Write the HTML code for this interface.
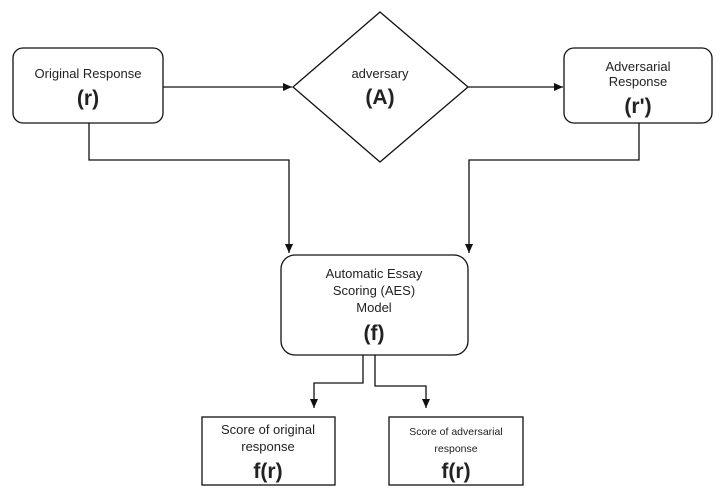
<!DOCTYPE html>
<html><head><meta charset="utf-8"><style>
html,body{margin:0;padding:0;background:#fff;}
svg{display:block;}
text{font-family:"Liberation Sans",Arial,sans-serif;fill:#222;text-anchor:middle;}
.b{font-weight:bold;font-size:21px;}
.s{font-size:13px;}
</style></head><body>
<svg width="723" height="500" viewBox="0 0 723 500" xmlns="http://www.w3.org/2000/svg">
<defs><marker id="a" markerWidth="10" markerHeight="10" refX="9" refY="5" orient="auto" markerUnits="userSpaceOnUse"><path d="M0,1 L9,5 L0,9 Z" fill="#111"/></marker></defs>
<g fill="none" stroke="#111" stroke-width="1.3">
<rect x="13" y="48" width="150" height="75" rx="10"/>
<rect x="564" y="48" width="148" height="75" rx="10"/>
<polygon points="293,87 380,12 468,87 380,162" fill="#fff"/>
<rect x="281" y="255" width="187" height="100" rx="14"/>
<rect x="202" y="417" width="133" height="68"/>
<rect x="389" y="417" width="134" height="68"/>
<path d="M163,87 H292" marker-end="url(#a)"/>
<path d="M468,87 H563" marker-end="url(#a)"/>
<path d="M89,123 V160 H289 V253" marker-end="url(#a)"/>
<path d="M639,123 V160 H469 V253" marker-end="url(#a)"/>
<path d="M363,355 V383 H314 V408" marker-end="url(#a)"/>
<path d="M375,355 V386 H426 V408" marker-end="url(#a)"/>
</g>
<text class="s" x="88" y="78">Original Response</text>
<text class="b" x="88" y="105">(r)</text>
<text class="s" x="380" y="78">adversary</text>
<text class="b" x="380" y="104">(A)</text>
<text class="s" x="638" y="71">Adversarial</text>
<text class="s" x="638" y="86">Response</text>
<text class="b" x="638" y="113">(r')</text>
<text class="s" x="374" y="278">Automatic Essay</text>
<text class="s" x="374" y="295">Scoring (AES)</text>
<text class="s" x="374" y="312">Model</text>
<text class="b" x="374" y="340">(f)</text>
<text class="s" x="268" y="434">Score of original</text>
<text class="s" x="268" y="451">response</text>
<text class="b" x="268" y="478">f(r)</text>
<text x="456" y="435" style="font-size:10.5px">Score of adversarial</text>
<text x="456" y="452" style="font-size:10.5px">response</text>
<text class="b" x="456" y="478">f(r)</text>
</svg>
</body></html>
